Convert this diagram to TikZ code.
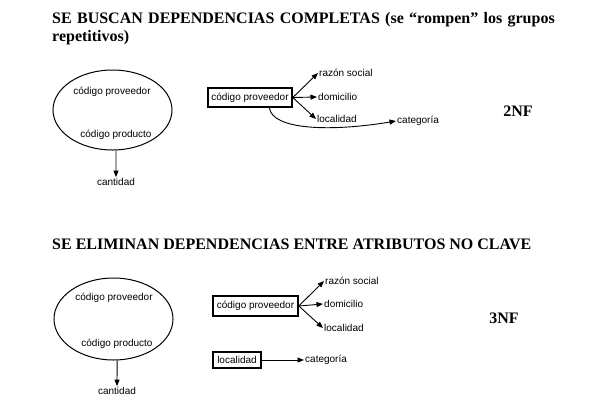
\documentclass[tikz,border=0pt]{standalone}
\usepackage{fontspec}
\setmainfont{Liberation Serif}
\setsansfont{Liberation Sans}
\usetikzlibrary{arrows.meta,shapes.geometric,calc}
\begin{document}
\begin{tikzpicture}[x=1pt,y=-1pt,
  heading/.style={font=\fontsize{16}{18}\selectfont\bfseries,anchor=base west,inner sep=0pt},
  nf/.style={font=\fontsize{16}{18}\selectfont\bfseries,inner sep=0pt},
  lbl/.style={font=\sffamily\fontsize{10}{12}\selectfont,inner sep=1pt},
  keybox/.style={draw,line width=1.6pt,font=\sffamily\fontsize{10}{12}\selectfont,inner sep=0pt},
  ell/.style={draw,ellipse,line width=1pt,inner sep=0pt},
  arr/.style={-{Triangle[length=6.5pt,width=5pt]},line width=0.9pt}]
\useasboundingbox (0,0) rectangle (600,400);
% headings
\node[heading,text width=520pt,align=left] (h1) at (52,23) {SE BUSCAN DEPENDENCIAS COMPLETAS (se “rompen” los grupos\\repetitivos)};
\node[heading] (h2) at (52,249) {SE ELIMINAN DEPENDENCIAS ENTRE ATRIBUTOS NO CLAVE};
\node[nf] (nf2) at (518,111) {2NF};
\node[nf] (nf3) at (504,318) {3NF};
% ---- top diagram
\node[ell,minimum width=119pt,minimum height=80pt] (e1) at (112.5,110) {};
\node[lbl] (e1a) at (112,92) {código proveedor};
\node[lbl] (e1b) at (116,135) {código producto};
\node[lbl] (cant1) at (116,182) {cantidad};
\draw[arr] (e1.-85) -- (cant1.north);
\node[keybox,minimum width=84pt,minimum height=19pt] (b1) at (250,97.5) {código proveedor};
\node[lbl,anchor=west] (rs1) at (318,73) {razón social};
\node[lbl,anchor=west] (do1) at (317,97) {domicilio};
\node[lbl,anchor=west] (lo1) at (316,119) {localidad};
\node[lbl,anchor=west] (ca1) at (396,121) {categoría};
\draw[arr] (b1.east) -- (rs1.west);
\draw[arr] (b1.east) -- (do1.west);
\draw[arr] (b1.east) -- (lo1.west);
\coordinate (s1) at ($(b1.south west)!0.726!(b1.south east)$);
\draw[arr] (s1) .. controls ($(s1)+(3,22)$) and (330,132) .. (ca1.west);
% ---- bottom diagram
\node[ell,minimum width=119pt,minimum height=82pt] (e2) at (113.5,319) {};
\node[lbl] (e2a) at (114,298) {código proveedor};
\node[lbl] (e2b) at (117,344) {código producto};
\node[lbl] (cant2) at (117,391) {cantidad};
\draw[arr] (e2.-85) -- (cant2.north);
\node[keybox,minimum width=85pt,minimum height=20pt] (b2) at (255.5,306) {código proveedor};
\node[lbl,anchor=west] (rs2) at (324,281) {razón social};
\node[lbl,anchor=west] (do2) at (323,304) {domicilio};
\node[lbl,anchor=west] (lo2) at (323,328) {localidad};
\draw[arr] (b2.east) -- (rs2.west);
\draw[arr] (b2.east) -- (do2.west);
\draw[arr] (b2.east) -- (lo2.west);
\node[keybox,minimum width=48pt,minimum height=16pt] (b3) at (237,360) {localidad};
\node[lbl,anchor=west] (ca2) at (304,360) {categoría};
\draw[arr] (b3.east) -- (ca2.west);
\end{tikzpicture}
\end{document}
